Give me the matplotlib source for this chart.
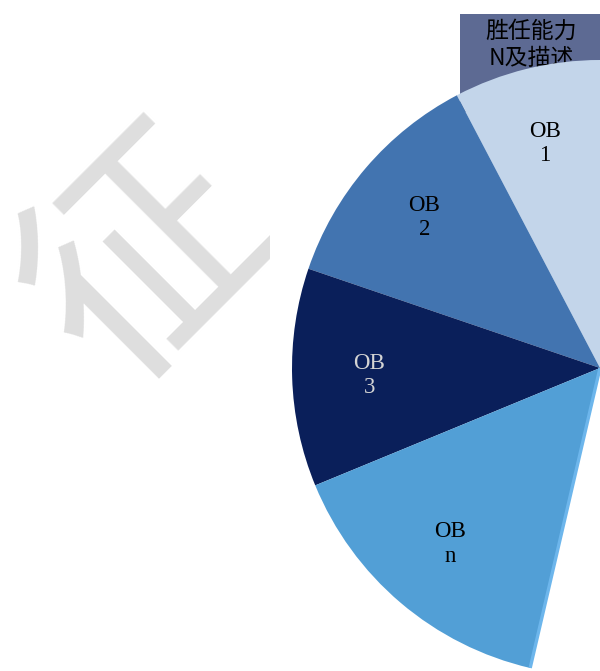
import numpy as np
import matplotlib
matplotlib.use('Agg')
import matplotlib.pyplot as plt
from matplotlib.patches import Rectangle

# Данные: сектора (градусы) и подписи
labels = ['OB\n1', 'OB\n2', 'OB\n3', 'OB\nn', '']
sizes = [27.7, 43.5, 41.2, 54.5, 193.1]
colors = ['#C3D5EA', '#4274B0', '#0A1F5A', '#529FD6', 'white']
label_colors = ['black', 'black', '#D4D4D4', 'black', 'black']
start_angle = 90
title_text = '胜任能力\nN及描述'
watermark = '征'

W, H = 600, 671
fig = plt.figure(figsize=(W / 100, H / 100), dpi=100)
ax = fig.add_axes([0, 0, 1, 1])

cx, cy, r = 600, H - 368, 308

# Плашка с заголовком (за кругом)
ax.add_patch(Rectangle((460, H - 112), 145, 98, facecolor='#5D6A93',
                       edgecolor='none', zorder=1))
ax.text(531, H - 45, title_text, ha='center', va='center', fontsize=16.5,
        family=['Noto Sans CJK SC', 'DejaVu Sans'], color='black', zorder=2)

# Водяной знак (обрезан справа)
wm = ax.text(150, H - 258, watermark, rotation=45, rotation_mode='anchor',
             ha='center', va='center', fontsize=170, color='#DEDEDE',
             family=['Noto Sans CJK SC'], fontweight='light', zorder=0, clip_on=True)
wm.set_clip_path(Rectangle((0, 0), 270, H, transform=ax.transData))

wedges, texts = ax.pie(sizes, labels=labels, colors=colors, startangle=start_angle,
                       counterclock=True, center=(cx, cy), radius=r,
                       labeldistance=0.75, frame=True,
                       wedgeprops=dict(edgecolor='none', zorder=3),
                       textprops=dict(fontsize=16.5, family='Liberation Serif'))
for t, c in zip(texts, label_colors):
    t.set_ha('center')
    t.set_va('center')
    t.set_multialignment('center')
    t.set_color(c)
    t.set_zorder(5)

# Светлая кромка на конце сектора OB n
end_ang = np.deg2rad(start_angle + sum(sizes[:4]))
ax.plot([cx, cx + r * np.cos(end_ang)], [cy, cy + r * np.sin(end_ang)],
        color='#6DB6EC', lw=2.4, zorder=4, solid_capstyle='butt')

ax.set_xlim(0, W)
ax.set_ylim(0, H)
ax.set_aspect('equal')
ax.axis('off')

plt.savefig('out.png', dpi=100)
